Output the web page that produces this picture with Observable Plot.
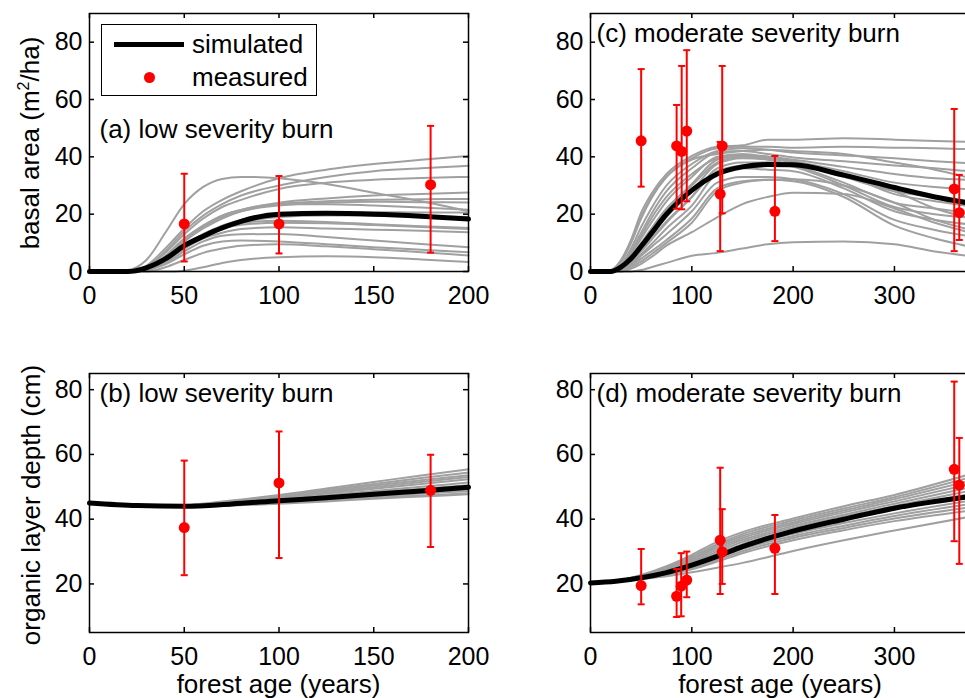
<!DOCTYPE html>
<html><head><meta charset="utf-8">
<script src="https://cdn.jsdelivr.net/npm/d3@7"></script>
<script src="https://cdn.jsdelivr.net/npm/@observablehq/plot@0.6"></script>
<style>
html,body{margin:0;padding:0;background:#fff;overflow:hidden;}
#wrap{position:relative;width:965px;height:698px;overflow:hidden;font-family:"Liberation Sans",Arial,Helvetica,sans-serif;color:#000;}
.panel{position:absolute;}
.lab{position:absolute;font-size:26px;line-height:26px;white-space:nowrap;transform:translate(-50%,-50%);}
.rot{transform:translate(-50%,-50%) rotate(-90deg);}
sup{font-size:16px;line-height:0;vertical-align:10px;}
#legend{position:absolute;left:101px;top:24px;width:214px;height:70px;border:1.5px solid #000;background:#fff;font-size:26px;}
</style></head><body><div id="wrap"></div>
<script>
// ---------- panel (a): basal area, low severity ----------
const aX = [0,20,30,40,50,60,70,80,100,125,150,175,200];
const aMean = [0,0,1.3,4.4,9,12.3,15.2,17.5,20,20.3,20,19.3,18.3];
const aRuns = [
  [0,0.5,4,13.5,23.5,29.5,32.3,33,32.5,30.5,27.5,24.5,21],
  [0,0,2,8,15,21,25,28,32.5,35.5,37.5,39,40.3],
  [0,0,1.5,7,14,19.5,23.5,26.5,30,33,35,36,36.9],
  [0,0,1.5,6.5,13,18.5,22.5,25,28.8,31,32,32.6,33],
  [0,0,1,5.5,11.5,16,19.5,21.5,24,25.5,26.5,27,27.6],
  [0,0,1,5,11,15.5,19,21,23.6,24.5,25,25.2,25.3],
  [0,0,1,5,10.5,15,18.5,21,23,24,24.3,24.2,24.1],
  [0,0,1,5,11,16,19.5,21.5,23.5,23.5,23,22.3,21.5],
  [0,0,0.5,4,9,13,16,18,20,20.5,20.7,20.6,20.6],
  [0,0,0.5,3.5,8,12,15,17,19,19.5,19.5,19.2,19],
  [0,0,0.5,4,9,13,15.5,17,17.7,17.3,16.5,15.8,15.2],
  [0,0,0.5,3.5,8.5,12.5,15,16.3,17,16.8,16.2,15.5,14.8],
  [0,0,0.5,3.5,8,11.5,13.5,14.8,15.4,15,14.6,14.2,13.7],
  [0,0,0.5,3,7,10.5,12.5,13,13.1,12,10.8,9.6,8.5],
  [0,0,0.5,2.5,6,9,10.5,10.8,10.5,9.5,8.5,7.6,6.7],
  [0,0,0,1.5,4,6.5,8,9,9.5,8.8,7.8,6.7,5.6],
  [0,0,0,0,0.3,1.5,3,4,5,5.3,5,4.2,3.3]
];
const aPtX = [50,100,180];
const aPtY = [16.6,16.6,30.3];
const aPtLo = [3.5,6.3,6.6];
const aPtHi = [34.1,33.3,50.8];

// ---------- panel (c): basal area, moderate severity ----------
const cX = [0,20,30,40,50,60,75,100,125,150,175,200,250,300,340,370];
const cMean = [0,0,1.5,4.5,8.8,13.3,20,28.3,34,36.5,37.3,37.2,33.6,29.3,26,24.1];
const cRuns = [
  [0,0.5,4,11,20.5,27,34,40.3,43.5,44,46,46,46.5,46,45.5,45.3],
  [0,0.3,3.5,10,18.5,25.5,33,39.5,43,43.5,43.5,43.2,43.5,43.2,43,42.7],
  [0,0.3,3.5,10,19,26,33,39,41,42,42.5,42,41,38,35.5,33],
  [0,0,2.5,8,15.5,22,30,37.5,42,43,42.5,41.5,40.5,39.5,38.5,37.8],
  [0,0,2,7,13.5,20,28,36,41.5,42,41,39.8,38.5,37,36,35.1],
  [0,0,2,6.5,12.5,18.5,26,34,39.5,40.5,40,39,36.5,34,32.5,32],
  [0,0,1.5,6,11.5,17,24.5,33,40,41,40,38.5,35,31,29.5,28.8],
  [0,0,1,5,9.5,14.5,21.5,30.5,39,40.5,40,38,33,28,26,24.7],
  [0,0,1,5,10,15,22,30,38,40,39.5,38,34,27,24.5,23],
  [0,0,1,4,8,12.5,19,28,37.5,39.5,39,37,31,24,22,20.6],
  [0,0,0.8,3.5,7.5,11.5,17.5,26,35,37,38,37.5,34,28,22,19],
  [0,0,0.8,3.5,7,11,17,26,36,38,38,36.5,30,22.5,20,18.9],
  [0,0,0.5,3,6,9.5,15,23,34,36,35.5,35,29,21,18,16.6],
  [0,0,0.5,2.5,5.5,8.5,13,21,31,33,33,32.2,27,18,14.5,12.5],
  [0,0,0.3,2,4.5,7,11,18.5,29,31.5,32,31.5,26,16,11.5,9],
  [0,0,0,1.5,3.5,6,10,17,28,31,32,32.2,30,24,18,15],
  [0,0,0,1,2.7,5,9,13.7,18.9,23.5,26,27.5,27,22,17,14],
  [0,0,0,0,0.5,1.5,3,5.5,6.5,8,9.5,10.2,10.5,9.5,7,5.6]
];
const cPtX = [50,85,90,95,128,130,182,359,364];
const cPtY = [45.6,43.8,41.9,49,27,43.8,21,28.8,20.5];
const cPtLo = [29.6,21.9,21.7,24.5,7.1,20.3,10.6,7.1,11];
const cPtHi = [70.6,58.1,71.7,77.2,45.2,71.7,40.3,56.7,33.7];

// ---------- panel (b): organic layer depth, low severity ----------
const bX = [0,25,50,75,100,125,150,175,200];
const bMean = [45,44.2,44,44.7,45.7,46.6,47.7,48.7,49.9];
const bRuns = [
  [45,44.3,44.4,45.8,47.5,49.5,51.5,53.5,55.4],
  [45,44.3,44.3,45.6,47.2,49,50.9,52.7,54.4],
  [45,44.3,44.3,45.5,47,48.6,50.4,52,53.6],
  [45,44.2,44.2,45.3,46.7,48.2,49.9,51.5,53],
  [45,44.2,44.2,45.2,46.5,47.9,49.4,50.9,52.3],
  [45,44.2,44.1,45,46.2,47.4,48.7,50,51.3],
  [45,44.2,44.1,44.9,46,47.1,48.3,49.4,50.5],
  [45,44.2,44,44.8,45.8,46.8,48,49.2,50.3],
  [45,44.2,44,44.6,45.5,46.4,47.4,48.3,49.2],
  [45,44.2,43.9,44.4,45.2,46.1,47,47.9,48.7],
  [45,44.2,43.9,44.3,45,45.8,46.6,47.3,48],
  [45,44.2,43.8,44.2,44.8,45.5,46.3,47,47.7]
];
const bPtX = [50,100,180];
const bPtY = [37.4,51.2,48.9];
const bPtLo = [22.7,28,31.4];
const bPtHi = [58.1,67.1,59.9];

// ---------- panel (d): organic layer depth, moderate severity ----------
const dX = [0,25,50,75,100,125,150,200,250,300,370];
const dMean = [20.3,20.8,21.9,23.5,25.8,28.5,31.5,36.3,40,43.4,46.8];
const dRuns = [
  [20.3,20.9,22.8,25.5,29,33,36,40.2,44,47.5,53.5],
  [20.3,20.9,22.6,25.2,28.5,32.3,35.4,39.6,43.3,46.8,52.5],
  [20.3,20.9,22.5,25,28,31.8,34.8,39,42.7,46.2,51.5],
  [20.3,20.9,22.4,24.7,27.6,31.2,34.2,38.5,42.1,45.5,50.5],
  [20.3,20.8,22.3,24.4,27.2,30.6,33.6,37.9,41.4,44.8,49.5],
  [20.3,20.8,22.1,24.1,26.7,30,33,37.3,40.8,44.1,48.5],
  [20.3,20.8,22,23.9,26.3,29.4,32.3,36.7,40.2,43.4,47.5],
  [20.3,20.8,21.9,23.6,25.8,28.7,31.5,35.5,38.8,41.8,45.5],
  [20.3,20.8,21.8,23.3,25.3,28,30.8,34.8,38,41,44.5],
  [20.3,20.8,21.7,23.1,24.9,27.4,30.1,34.2,37.3,40.2,43.5],
  [20.3,20.8,21.6,22.8,24.5,26.9,29.5,33.5,36.6,39.4,42.5],
  [20.3,20.7,21.5,22.4,23.6,25,26.5,30.2,33.5,36.5,40.5]
];
const dPtX = [50,85,89.5,95,128,130,182,359,364];
const dPtY = [19.5,16.2,19.3,21.2,33.5,29.9,31,55.4,50.5];
const dPtLo = [13.7,9.8,10,15.9,16.9,20,16.9,33.2,26.2];
const dPtHi = [30.8,24.6,29.5,30,55.9,43.1,41.3,82.5,65.1];

// ---------- axes / text ----------
const xTicksLow = [0,50,100,150,200];
const xTicksMod = [0,100,200,300];
const yTicksBA = [0,20,40,60,80];
const yTicksOL = [20,40,60,80];
const panelLabels = ["(a) low severity burn","(b) low severity burn","(c) moderate severity burn","(d) moderate severity burn"];
const legendLabels = ["simulated","measured"];

const RED = "#ff0000", GREY = "#a0a0a0";
const FONT = "'Liberation Sans', Arial, Helvetica, sans-serif";

function panel(o) {
  const greyData = o.runs.flatMap((g, i) => g.map((v, j) => ({x: o.xs[j], y: v, run: i})));
  const meanData = o.mean.map((v, j) => ({x: o.xs[j], y: v}));
  const pts = o.px.map((x, i) => ({x, y: o.py[i], lo: o.lo[i], hi: o.hi[i]}));
  const pw = o.width - o.ml - o.mr, ph = o.height - o.mt - o.mb;
  const T = 5;
  const cap = {draw(ctx) { ctx.moveTo(-3.5, 0); ctx.lineTo(3.5, 0); }};
  const svg = Plot.plot({
    width: o.width, height: o.height,
    marginTop: o.mt, marginBottom: o.mb, marginLeft: o.ml, marginRight: o.mr,
    style: {fontFamily: FONT, fontSize: "25px", background: "transparent", color: "#000"},
    x: {domain: o.xDomain},
    y: {domain: o.yDomain},
    marks: [
      Plot.line(greyData, {x: "x", y: "y", z: "run", stroke: GREY, strokeWidth: 2, curve: "monotone-x"}),
      Plot.line(meanData, {x: "x", y: "y", stroke: "#000", strokeWidth: 5, curve: "monotone-x"}),
      Plot.ruleX(pts, {x: "x", y1: "lo", y2: "hi", stroke: RED, strokeWidth: 2}),
      Plot.dot(pts, {x: "x", y: "lo", symbol: cap, fill: "none", stroke: RED, strokeWidth: 2}),
      Plot.dot(pts, {x: "x", y: "hi", symbol: cap, fill: "none", stroke: RED, strokeWidth: 2}),
      Plot.dot(pts, {x: "x", y: "y", r: 5.5, fill: RED, stroke: "none"}),
      Plot.tickX(o.xTicks, {x: d => d, insetTop: ph - T, stroke: "#000", strokeWidth: 1.5}),
      Plot.tickX(o.xTicks, {x: d => d, insetBottom: ph - T, stroke: "#000", strokeWidth: 1.5}),
      Plot.tickY(o.yTicks, {y: d => d, insetRight: pw - T, stroke: "#000", strokeWidth: 1.5}),
      Plot.tickY(o.yTicks, {y: d => d, insetLeft: pw - T, stroke: "#000", strokeWidth: 1.5}),
      Plot.axisX({ticks: o.xTicks, tickSize: 0, tickPadding: 15, label: null, fontSize: 25}),
      Plot.axisY({ticks: o.yTicks, tickSize: 0, tickPadding: 7, label: null, fontSize: 25}),
      Plot.frame({stroke: "#000", strokeWidth: 1.5}),
      Plot.text([o.label], {frameAnchor: "top-left", dx: o.ldx, dy: o.ldy, text: d => d, textAnchor: "start", lineAnchor: "middle", fontSize: 26, fill: "#000"})
    ]
  });
  svg.classList.add("panel");
  svg.style.left = o.left + "px";
  svg.style.top = o.top + "px";
  svg.style.overflow = "visible";
  return svg;
}

const wrap = document.getElementById("wrap");

wrap.appendChild(panel({xs: aX, mean: aMean, runs: aRuns, px: aPtX, py: aPtY, lo: aPtLo, hi: aPtHi,
  xDomain: [0, 200], yDomain: [0, 90], xTicks: xTicksLow, yTicks: yTicksBA, label: panelLabels[0],
  ldx: 10, ldy: 116, left: 0, top: 0, width: 480, height: 340, mt: 13, mb: 69, ml: 89, mr: 12}));

wrap.appendChild(panel({xs: cX, mean: cMean, runs: cRuns, px: cPtX, py: cPtY, lo: cPtLo, hi: cPtHi,
  xDomain: [0, 380], yDomain: [0, 90], xTicks: xTicksMod, yTicks: yTicksBA, label: panelLabels[2],
  ldx: 6, ldy: 20, left: 480, top: 0, width: 510, height: 340, mt: 13, mb: 69, ml: 110, mr: 15}));

wrap.appendChild(panel({xs: bX, mean: bMean, runs: bRuns, px: bPtX, py: bPtY, lo: bPtLo, hi: bPtHi,
  xDomain: [0, 200], yDomain: [5, 85], xTicks: xTicksLow, yTicks: yTicksOL, label: panelLabels[1],
  ldx: 10, ldy: 20, left: 0, top: 340, width: 480, height: 358, mt: 33, mb: 66, ml: 89, mr: 12}));

wrap.appendChild(panel({xs: dX, mean: dMean, runs: dRuns, px: dPtX, py: dPtY, lo: dPtLo, hi: dPtHi,
  xDomain: [0, 380], yDomain: [5, 85], xTicks: xTicksMod, yTicks: yTicksOL, label: panelLabels[3],
  ldx: 6, ldy: 20, left: 480, top: 340, width: 510, height: 358, mt: 33, mb: 66, ml: 110, mr: 15}));

// axis titles
function addLabel(html, x, y, rot) {
  const d = document.createElement("div");
  d.className = "lab" + (rot ? " rot" : "");
  d.innerHTML = html;
  d.style.left = x + "px";
  d.style.top = y + "px";
  wrap.appendChild(d);
}
addLabel("basal area (m<sup>2</sup>/ha)", 30, 143, true);
addLabel("organic layer depth (cm)", 31, 505, true);
addLabel("forest age (years)", 278.5, 684, false);
addLabel("forest age (years)", 780, 684, false);

// legend
const lg = document.createElement("div");
lg.id = "legend";
lg.innerHTML =
  `<svg width="214" height="70" style="position:absolute;left:0;top:0">
     <line x1="12" x2="82" y1="19.5" y2="19.5" stroke="#000" stroke-width="5"/>
     <circle cx="47.5" cy="52.5" r="5.5" fill="${RED}"/>
   </svg>
   <div style="position:absolute;left:90px;top:6px;line-height:26px">${legendLabels[0]}</div>
   <div style="position:absolute;left:90px;top:39px;line-height:26px">${legendLabels[1]}</div>`;
wrap.appendChild(lg);
</script></body></html>
